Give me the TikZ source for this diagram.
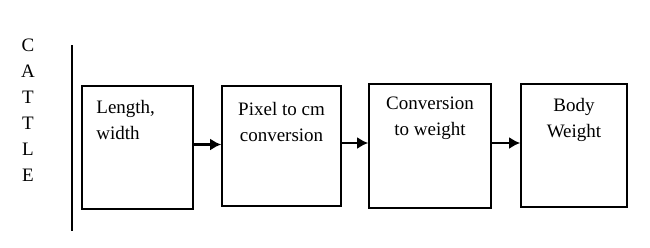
\documentclass[tikz,border=0pt]{standalone}
\usepackage{fontspec}
\setmainfont{Liberation Serif}
\usetikzlibrary{arrows.meta,positioning}
\tikzset{
  stage/.style={draw,line width=1.6pt,inner sep=0},
  stagetext/.style={font=\rmfamily\fontsize{19}{26}\selectfont,inner sep=0,align=center},
  flow/.style={-{Latex[length=11pt,width=12pt]},line width=2.2pt}
}
\newcommand{\Stage}[5]% pos, name, size, text placement, text
{\node[stage,#3] (#2) at (#1) {};
  \node[stagetext,#4] (#2-text) {#5};
}
\newcommand{\Flow}[2]% from, to
{\draw[flow] ([yshift=3pt]#1.east) -- ([yshift=3pt]#1.east -| #2.west);}

\begin{document}
\begin{tikzpicture}[x=1pt,y=-1pt]
  \useasboundingbox (0,0) rectangle (650,247);
  \node[stagetext] (cattle) at (28,110) {C\\A\\T\\T\\L\\E};
  \coordinate (split-top) at (72,45);
  \coordinate (split-bot) at (72,231);
  \draw[line width=1.6pt] (split-top) -- (split-bot);
  \Stage{137.5,147.5}{len}{minimum width=111pt,minimum height=123pt}{below right=15pt and 15pt of len.north west,align=left}{Length,\\width}
  \Stage{281.5,146}{pix}{minimum width=119pt,minimum height=120pt}{below=17pt of pix.north}{Pixel to cm\\conversion}
  \Stage{430,146}{conv}{minimum width=122pt,minimum height=124pt}{below=14pt of conv.north}{Conversion\\to weight}
  \Stage{574,145.5}{body}{minimum width=106pt,minimum height=123pt}{below=15pt of body.north}{Body\\Weight}
  \Flow{len}{pix}
  \Flow{pix}{conv}
  \Flow{conv}{body}
\end{tikzpicture}
\end{document}
